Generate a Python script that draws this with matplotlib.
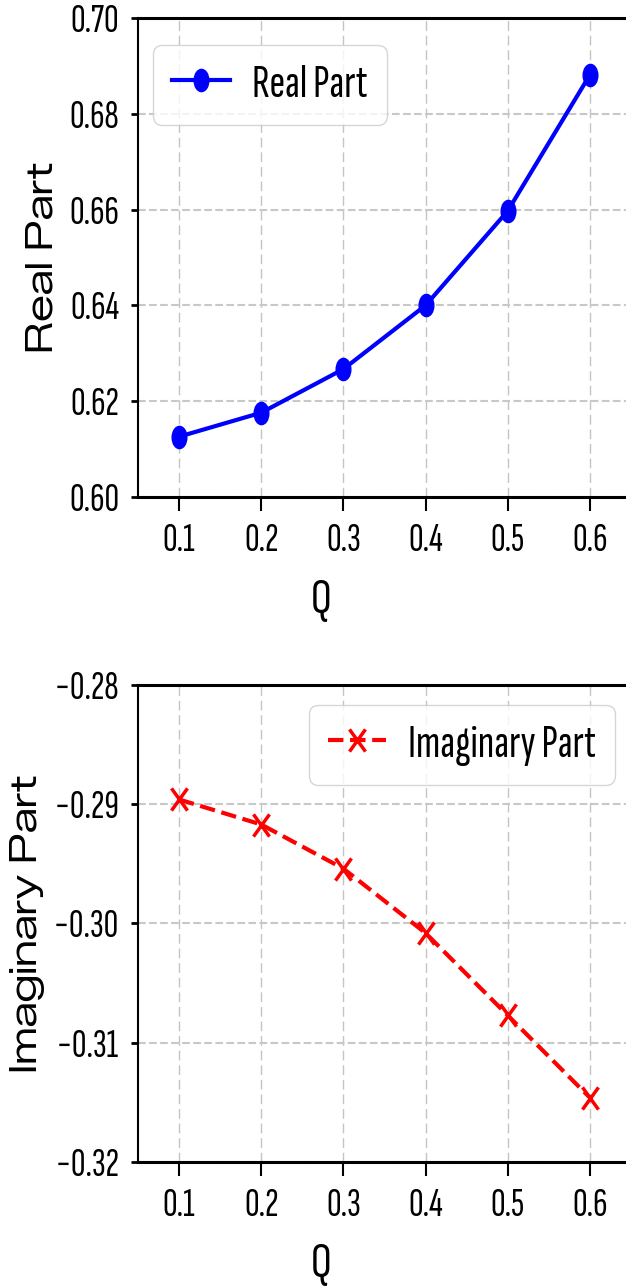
import matplotlib
matplotlib.use("Agg")
import matplotlib.pyplot as plt
from matplotlib.path import Path
from matplotlib.transforms import Affine2D

# data
q_values = [0.1, 0.2, 0.3, 0.4, 0.5, 0.6]
real_part = [0.6126, 0.6176, 0.6267, 0.6400, 0.6597, 0.6881]
imag_part = [-0.2896, -0.2917, -0.2954, -0.3008, -0.3077, -0.3146]

real_ticks = [0.60, 0.62, 0.64, 0.66, 0.68, 0.70]
imag_ticks = [-0.32, -0.31, -0.30, -0.29, -0.28]
q_ticks = [0.1, 0.2, 0.3, 0.4, 0.5, 0.6]

# the reference is horizontally squeezed: narrow font for upright text,
# wide font for the rotated y labels
TEXT_FONT = ['Sofia Sans Extra Condensed', 'DejaVu Sans']
YLABEL_FONT = ['Zalando Sans Expanded', 'DejaVu Sans']
plt.rcParams['font.family'] = TEXT_FONT
plt.rcParams['axes.unicode_minus'] = True

# squeezed marker shapes
dot = Path.unit_circle().transformed(Affine2D().scale(0.66, 1.0))
cross = Path([(-0.5, -0.5), (0.5, 0.5), (-0.5, 0.5), (0.5, -0.5)],
             [Path.MOVETO, Path.LINETO, Path.MOVETO, Path.LINETO]
             ).transformed(Affine2D().scale(0.72, 1.0))

fig = plt.figure(figsize=(6.26, 12.88), dpi=100)
ax1 = fig.add_axes([0.2204, 0.6141, 0.7875, 0.372])
ax2 = fig.add_axes([0.2204, 0.0978, 0.7875, 0.3704])

ax1.plot(q_values, real_part, '-', color='blue', lw=3, marker=dot, ms=16,
         mfc='blue', mec='blue', mew=1, label='Real Part')
ax1.set_ylim(0.60, 0.70)
ax1.set_yticks(real_ticks)
ax1.set_yticklabels([f'{v:.2f}' for v in real_ticks])
ax1.set_ylabel('Real Part', family=YLABEL_FONT, fontsize=27)
ax1.yaxis.set_label_coords(-0.1724, 0.5)
ax1.yaxis.label.set_va('baseline')
ax1.legend(loc='upper left', bbox_to_anchor=(0.0304, 0.9436), borderaxespad=0,
           fontsize=34, handlelength=1.23, handletextpad=0.47)

ax2.plot(q_values, imag_part, '--', color='red', lw=3, marker=cross, ms=16,
         mfc='none', mec='red', mew=2.5, label='Imaginary Part')
ax2.set_ylim(-0.32, -0.28)
ax2.set_yticks(imag_ticks)
ax2.set_yticklabels([f'\u2212{abs(v):.2f}' for v in imag_ticks])
ax2.set_ylabel('Imaginary Part', family=YLABEL_FONT, fontsize=27)
ax2.yaxis.set_label_coords(-0.205, 0.5)
ax2.yaxis.label.set_va('baseline')
ax2.legend(loc='upper right', bbox_to_anchor=(0.9675, 0.958), borderaxespad=0,
           fontsize=34, handlelength=1.23, handletextpad=0.47)

for ax in (ax1, ax2):
    ax.set_xlim(0.05, 0.65)
    ax.set_xticks(q_ticks)
    ax.set_xlabel('Q', fontsize=37)
    ax.xaxis.set_label_coords(0.371, -0.242)
    ax.xaxis.label.set_va('baseline')
    ax.tick_params(axis='y', labelsize=29, width=2, length=5, pad=8.5)
    ax.tick_params(axis='x', labelsize=29, width=1.5, length=10, pad=8.5)
    ax.xaxis.grid(True, linestyle=(0, (7, 3.5)), lw=1, color='#c4c4c4')
    ax.yaxis.grid(True, linestyle='--', lw=1.5, color='#c8c8c8')
    ax.set_axisbelow(True)
    ax.spines['left'].set_linewidth(1.5)
    ax.spines['bottom'].set_linewidth(2.2)
    ax.spines['top'].set_linewidth(2.2)

fig.savefig('out.png', dpi=100)
